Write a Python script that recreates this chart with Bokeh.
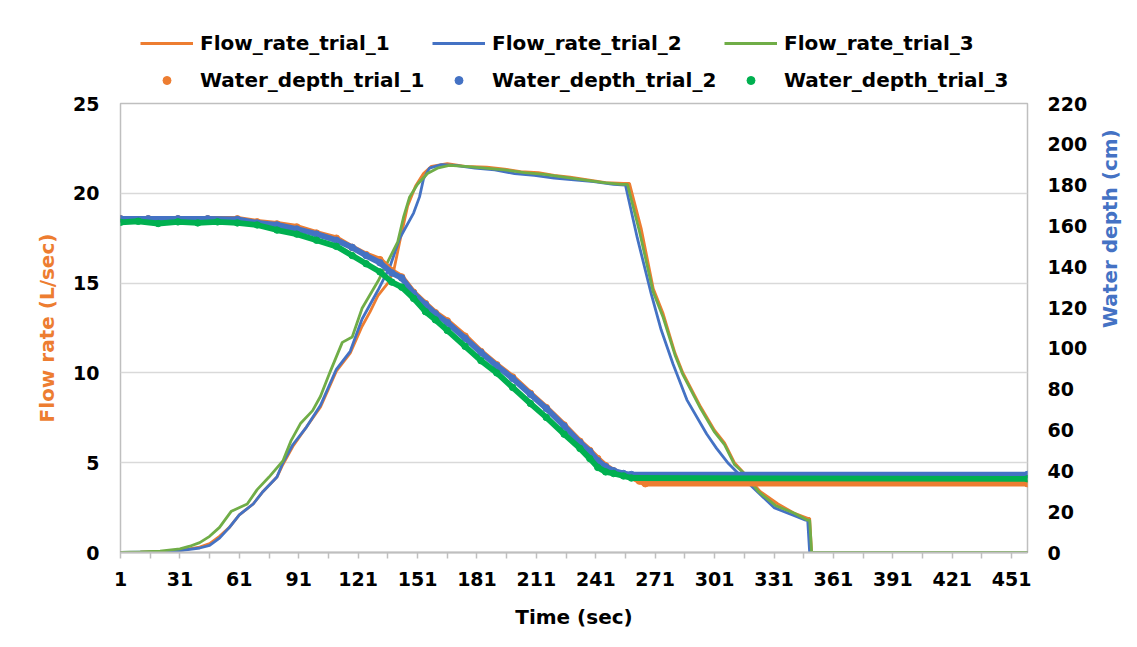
import math
from bokeh.plotting import figure
from bokeh.layouts import column
from bokeh.models import Range1d, LinearAxis, FixedTicker, Legend, LegendItem
from bokeh.embed import file_html
from bokeh.resources import INLINE

# ---------------- data ----------------
time_ticks = list(range(1, 452, 30))
time_minor_ticks = list(range(16, 452, 30))
flow_ticks = [0, 5, 10, 15, 20, 25]
depth_ticks = list(range(0, 221, 20))

flow1_t = [1, 11, 21, 31, 41, 46, 51, 56, 61, 68, 73, 80, 83, 88, 95, 102, 110, 117, 123, 127, 131, 136, 139, 142,
           146, 150, 154, 158, 166, 175, 186, 195, 203, 212, 220, 228, 237, 246, 255, 258, 264, 270, 275, 281, 285,
           294, 301, 306, 311, 316, 324, 333, 341, 348, 349, 350, 459]
flow1_v = [0, 0.02, 0.05, 0.12, 0.3, 0.5, 0.9, 1.4, 2.1, 2.7, 3.4, 4.2, 4.9, 5.9, 7.0, 8.1, 10.1, 11.1, 12.6, 13.4,
           14.3, 15.0, 15.7, 17.3, 19.3, 20.4, 21.1, 21.5, 21.65, 21.5, 21.45, 21.35, 21.2, 21.15, 21.0, 20.9, 20.75,
           20.6, 20.55, 20.55, 18.0, 14.7, 13.3, 11.1, 10.0, 8.1, 6.8, 6.1, 5.0, 4.4, 3.4, 2.7, 2.2, 1.9, 1.9, 0, 0]

flow2_t = [1, 11, 21, 31, 41, 46, 51, 56, 61, 68, 73, 80, 83, 88, 95, 102, 110, 117, 123, 131, 137, 142, 149, 152,
           154, 157, 163, 170, 180, 190, 200, 210, 220, 230, 240, 250, 256, 262, 269, 274, 280, 287, 297, 302, 308,
           313, 321, 331, 341, 347, 348, 349, 459]
flow2_v = [0, 0.02, 0.04, 0.1, 0.25, 0.4, 0.8, 1.4, 2.1, 2.7, 3.4, 4.2, 5.0, 6.0, 7.0, 8.2, 10.2, 11.2, 13.0, 14.6,
           15.9, 17.5, 18.9, 19.8, 20.8, 21.4, 21.6, 21.55, 21.4, 21.3, 21.1, 21.0, 20.85, 20.75, 20.65, 20.5, 20.45,
           17.5, 14.4, 12.4, 10.5, 8.5, 6.6, 5.8, 4.95, 4.4, 3.55, 2.5, 2.06, 1.8, 1.8, 0, 0]

flow3_t = [1, 11, 21, 31, 36, 41, 46, 51, 57, 65, 70, 76, 83, 87, 92, 98, 102, 107, 113, 118, 123, 131, 136, 141,
           144, 147, 151, 156, 161, 167, 175, 185, 195, 205, 215, 225, 235, 245, 254, 257, 263, 270, 275, 281, 285,
           294, 301, 306, 311, 316, 323, 332, 341, 348, 349, 350, 459]
flow3_v = [0, 0.03, 0.08, 0.2, 0.35, 0.55, 0.9, 1.4, 2.3, 2.7, 3.5, 4.2, 5.1, 6.2, 7.2, 7.9, 8.7, 10.1, 11.7, 12.0,
           13.6, 15.1, 16.2, 17.3, 18.7, 19.8, 20.5, 21.1, 21.4, 21.55, 21.5, 21.4, 21.3, 21.15, 21.05, 20.9, 20.75,
           20.6, 20.5, 20.5, 17.9, 14.5, 13.1, 11.0, 9.9, 8.0, 6.7, 6.0, 4.9, 4.4, 3.4, 2.6, 2.2, 1.8, 1.8, 0, 0]

depth1_t = [1, 15, 30, 45, 60, 70, 80, 90, 100, 110, 118, 125, 132, 138, 143, 149, 155, 160, 166, 175, 183, 191,
            199, 208, 216, 225, 233, 238, 242, 246, 250, 255, 259, 263, 266, 459]
depth1_d = [163.5, 163.5, 163.5, 163.5, 163.5, 162, 161, 159.5, 156.5, 154, 149.5, 146, 143.5, 138, 135, 127.5,
            122, 117.5, 113.5, 106, 98.5, 92, 86, 78, 71, 62.5, 54.5, 50, 46, 42.5, 40, 38, 37, 35, 33.7, 33.7]

depth2_t = [1, 15, 30, 45, 60, 70, 80, 90, 100, 110, 118, 125, 132, 138, 143, 149, 155, 160, 166, 175, 183, 191,
            199, 208, 216, 225, 233, 238, 242, 246, 250, 255, 259, 459]
depth2_d = [163.5, 163.5, 163.5, 163.5, 163.2, 161.5, 160.5, 158.5, 156, 153, 149.5, 145.5, 142, 137, 134.5, 127,
            121.5, 117, 112.7, 105, 98, 91.5, 85.3, 77.5, 70.6, 62, 53.9, 49.5, 45, 42, 40, 38.7, 38.2, 38.2]

depth3_t = [1, 10, 20, 30, 40, 50, 60, 70, 80, 90, 100, 110, 118, 125, 132, 138, 143, 149, 155, 160, 166, 175, 183,
            191, 199, 208, 216, 225, 233, 238, 242, 246, 250, 255, 259, 459]
depth3_d = [161.8, 162.3, 161.2, 162, 161.5, 162, 161.5, 160.5, 158, 156, 153, 150, 145.5, 141.5, 137.5, 132.5, 130,
            124.5, 118, 114, 108.8, 101, 94, 88, 80.9, 73, 66.2, 58, 51, 46, 41.7, 39.5, 38.7, 37.5, 36.5, 36.1]

flow_labels = ["Flow_rate_trial_1", "Flow_rate_trial_2", "Flow_rate_trial_3"]
depth_labels = ["Water_depth_trial_1", "Water_depth_trial_2", "Water_depth_trial_3"]

# ---------------- styling ----------------
ORANGE = "#ED7D31"
BLUE = "#4472C4"
GREEN_LINE = "#70AD47"
GREEN_DOT = "#00B050"
FONT = "DejaVu Sans"
FIG_W = 1137
LEG_H = 92

flows = [(flow1_t, flow1_v, ORANGE), (flow2_t, flow2_v, BLUE), (flow3_t, flow3_v, GREEN_LINE)]
depths = [(depth1_t, depth1_d, ORANGE), (depth2_t, depth2_d, BLUE), (depth3_t, depth3_d, GREEN_DOT)]

# ---------- main plot ----------
p = figure(width=FIG_W, height=645 - LEG_H, output_backend="svg", toolbar_location=None, title=None,
           x_range=Range1d(1, 459), y_range=Range1d(0, 25),
           min_border_left=120, min_border_right=110, min_border_top=11, min_border_bottom=93)
p.extra_y_ranges = {"depth": Range1d(0, 220)}
p.outline_line_color = "#bfbfbf"
p.outline_line_width = 1.5
p.background_fill_color = "white"

for t, v, c in flows:
    p.line(t, v, line_color=c, line_width=2.8)
for t, d, c in depths:
    p.line(t, d, line_color=c, line_width=5.8, y_range_name="depth")
    p.scatter(t, d, size=6.5, color=c, y_range_name="depth")

xa = p.xaxis[0]
xa.ticker = FixedTicker(ticks=time_ticks, minor_ticks=time_minor_ticks)
xa.axis_label = "Time (sec)"
xa.axis_line_color = "#bfbfbf"
xa.axis_line_width = 2
xa.major_tick_line_color = "#bfbfbf"
xa.minor_tick_line_color = "#bfbfbf"
xa.major_tick_line_width = 1.5
xa.minor_tick_line_width = 1.5
xa.major_tick_in = 0
xa.minor_tick_in = 0
xa.major_tick_out = 6
xa.minor_tick_out = 6
xa.major_label_standoff = 13
xa.axis_label_standoff = 16

ya = p.yaxis[0]
ya.ticker = FixedTicker(ticks=flow_ticks)
ya.axis_label = "Flow rate (L/sec)"
ya.axis_label_text_color = ORANGE
ya.axis_line_color = None
ya.major_tick_line_color = None
ya.minor_tick_line_color = None
ya.major_tick_out = 0
ya.minor_tick_out = 0
ya.major_label_standoff = 21
ya.axis_label_standoff = 11

yr = LinearAxis(y_range_name="depth", ticker=FixedTicker(ticks=depth_ticks), axis_label="Water depth (cm)")
yr.axis_label_text_color = BLUE
yr.axis_line_color = None
yr.major_tick_line_color = None
yr.minor_tick_line_color = None
yr.major_tick_out = 0
yr.minor_tick_out = 0
yr.major_label_standoff = 20
yr.axis_label_standoff = 20
yr.axis_label_orientation = math.pi / 2
p.add_layout(yr, "right")

for ax in (xa, ya, yr):
    ax.major_label_text_font = FONT
    ax.major_label_text_font_style = "bold"
    ax.major_label_text_font_size = "19px"
    ax.major_label_text_color = "#000000"
    ax.axis_label_text_font = FONT
    ax.axis_label_text_font_style = "bold"
    ax.axis_label_text_font_size = "20px"
xa.axis_label_text_color = "#000000"

p.xgrid.grid_line_color = None
p.ygrid.grid_line_color = "#d9d9d9"
p.ygrid.grid_line_width = 1.5

# ---------- legend strip above the plot ----------
# (same series drawn again, but outside this strip's visible range, so only the legend shows)
lf = figure(width=FIG_W, height=LEG_H, output_backend="svg", toolbar_location=None, title=None,
            x_range=Range1d(-20, -10), y_range=Range1d(0, 1), x_axis_type=None, y_axis_type=None,
            min_border=0)
lf.outline_line_color = None
lf.xgrid.grid_line_color = None
lf.ygrid.grid_line_color = None

lr_f = [lf.line(t, v, line_color=c, line_width=2.8) for t, v, c in flows]
lr_d = [lf.scatter(t, d, size=6, color=c) for t, d, c in depths]

def make_legend(labels, rends, loc):
    lg = Legend(items=[LegendItem(label=l, renderers=[r]) for l, r in zip(labels, rends)],
                location=loc, orientation="horizontal",
                glyph_width=53, glyph_height=20, label_standoff=7, label_width=228, spacing=4,
                padding=0, margin=0, border_line_color=None, background_fill_alpha=0)
    lg.label_text_font = FONT
    lg.label_text_font_style = "bold"
    lg.label_text_font_size = "20px"
    lg.label_text_color = "#000000"
    return lg

lf.add_layout(make_legend(flow_labels, lr_f, (20, LEG_H - 55)))
lf.add_layout(make_legend(depth_labels, lr_d, (20, 0)))

layout = column(lf, p, spacing=0)
open("out.html", "w").write(file_html(layout, INLINE))
